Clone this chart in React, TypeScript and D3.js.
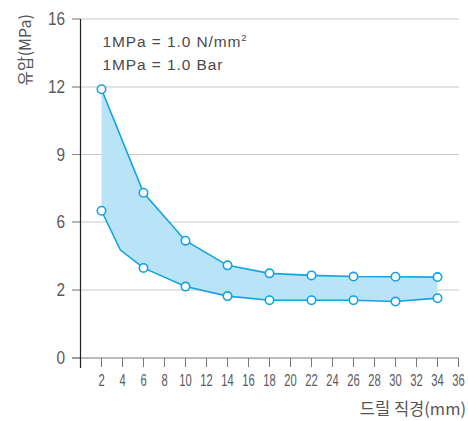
import React from "react";
import * as d3 from "d3";

const xTicks = [2, 4, 6, 8, 10, 12, 14, 16, 18, 20, 22, 24, 26, 28, 30, 32, 34, 36];
const yTicks = [0, 2, 6, 9, 12, 16];
const upperX = [2, 6, 10, 14, 18, 22, 26, 30, 34];
const upperY = [11.9, 7.3, 4.9, 3.45, 2.98, 2.86, 2.79, 2.78, 2.76];
const lowerX = [2, 3.8, 6, 10, 14, 18, 22, 26, 30, 34];
const lowerY = [6.5, 4.35, 3.3, 2.2, 1.82, 1.7, 1.7, 1.7, 1.66, 1.76];
const lowerMarked = [true, false, true, true, true, true, true, true, true, true];
const noteLines = ["1MPa = 1.0 N/mm", "1MPa = 1.0 Bar"];

const BLUE = "#13a2e2";
const FILL = "#b9e3f7";
const FONT = "'Noto Sans CJK KR', 'Liberation Sans', Arial, sans-serif";
const LAT = "'Liberation Sans', Arial, sans-serif";

export default function App() {
  const x = d3.scaleLinear().domain([0, 36]).range([80.5, 458.5]);
  const y = d3.scaleLinear().domain(yTicks).range([358, 290, 222, 154.5, 87, 19]);

  const upper = upperX.map((v, i) => ({ x: v, y: upperY[i] }));
  const lower = lowerX.map((v, i) => ({ x: v, y: lowerY[i], m: lowerMarked[i] }));

  const line = d3.line<{ x: number; y: number }>().x((d) => x(d.x)).y((d) => y(d.y));

  const areaPts = [...upper, ...[...lower].reverse()];
  const areaPath = line(areaPts) + "Z";

  return (
    <svg width={468} height={421} style={{ position: "absolute", left: 0, top: 0 }}>
      <rect width={468} height={421} fill="#fff" />
      {yTicks.filter((t) => t !== 0).map((t) => (
        <line key={"g" + t} x1={72} x2={459} y1={y(t)} y2={y(t)} stroke="#c9c9c9" strokeWidth={1} />
      ))}
      {yTicks.map((t) => (
        <line key={"yt" + t} x1={72} x2={80.5} y1={y(t)} y2={y(t)} stroke="#888" strokeWidth={1} />
      ))}
      <line x1={72} x2={459} y1={y(0)} y2={y(0)} stroke="#777" strokeWidth={1} />
      {xTicks.map((t) => (
        <line key={"xt" + t} x1={x(t)} x2={x(t)} y1={y(0)} y2={y(0) + 9} stroke="#777" strokeWidth={1} />
      ))}
      <line x1={80.5} x2={80.5} y1={19} y2={368} stroke="#222" strokeWidth={1.2} />

      {yTicks.map((t) => (
        <text
          key={"yl" + t}
          transform={`translate(65,${y(t) + 6.3}) scale(0.88,1)`}
          textAnchor="end"
          fontSize={17.5}
          fontFamily={LAT}
          fill="#5a5a5a"
        >
          {t}
        </text>
      ))}
      {xTicks.map((t) => (
        <text
          key={"xl" + t}
          transform={`translate(${x(t)},386) scale(0.7,1)`}
          textAnchor="middle"
          fontSize={16}
          fontFamily={LAT}
          fill="#5a5a5a"
        >
          {t}
        </text>
      ))}

      <path d={areaPath} fill={FILL} stroke="none" />
      <path d={line(upper) || ""} fill="none" stroke={BLUE} strokeWidth={1.6} />
      <path d={line(lower) || ""} fill="none" stroke={BLUE} strokeWidth={1.6} />
      {upper.map((d, i) => (
        <circle key={"u" + i} cx={x(d.x)} cy={y(d.y)} r={4.2} fill="#fff" stroke={BLUE} strokeWidth={1.6} />
      ))}
      {lower.filter((d) => d.m).map((d, i) => (
        <circle key={"l" + i} cx={x(d.x)} cy={y(d.y)} r={4.2} fill="#fff" stroke={BLUE} strokeWidth={1.6} />
      ))}

      <text x={102.5} y={46.5} fontSize={15.5} letterSpacing={0.9} fontFamily={LAT} fill="#4a4a4a">
        {noteLines[0]}
        <tspan fontSize={9.5} dy={-6}>2</tspan>
      </text>
      <text x={102.5} y={70} fontSize={15.5} letterSpacing={0.9} fontFamily={LAT} fill="#4a4a4a">
        {noteLines[1]}
      </text>

      <text
        transform="translate(31,50) rotate(-90)"
        textAnchor="middle"
        fontSize={16}
        fontFamily={FONT}
        fill="#555"
      >
        유압(MPa)
      </text>
      <text x={466} y={415} textAnchor="end" fontSize={16.5} fontFamily={FONT} fill="#555">
        드릴 직경(mm)
      </text>
    </svg>
  );
}
